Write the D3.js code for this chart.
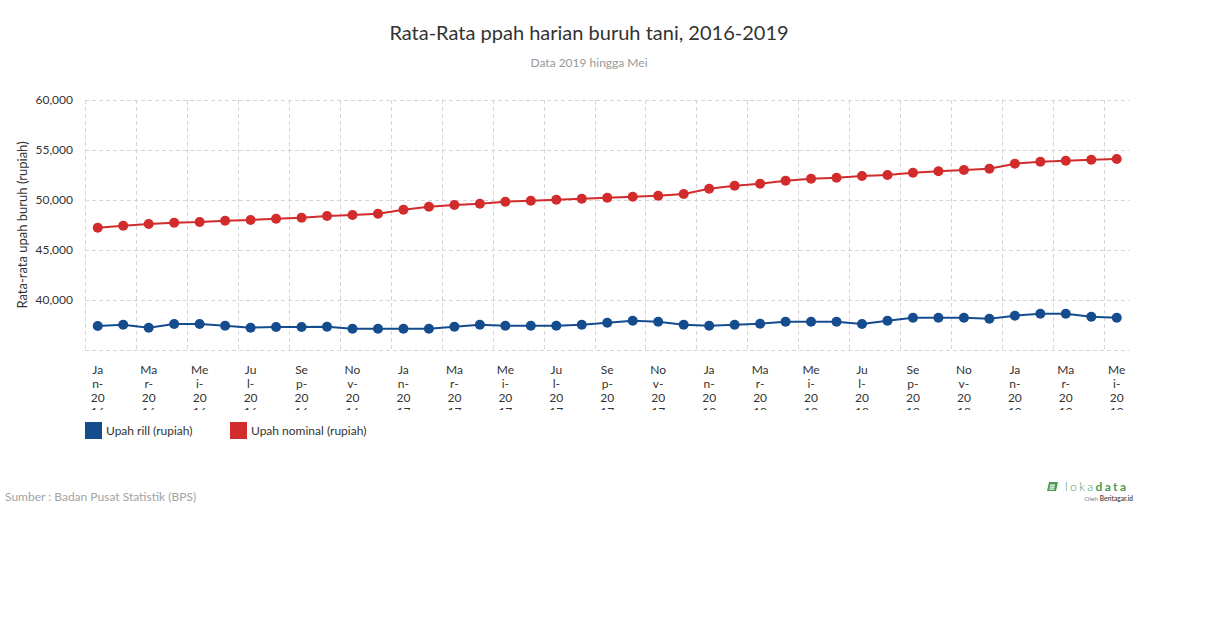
<!DOCTYPE html>
<html>
<head>
<meta charset="utf-8">
<script src="https://cdn.jsdelivr.net/npm/d3@7"></script>
<style>
  html, body { margin: 0; padding: 0; background: #fff; }
  svg { display: block; font-family: Lato, "Open Sans", sans-serif; }
</style>
</head>
<body>
<svg id="chart" width="1210" height="628"></svg>
<script>
// ---- data ----
const months = ["Jan","Feb","Mar","Apr","Mei","Jun","Jul","Agu","Sep","Okt","Nov","Des"];
const years = [2016, 2017, 2018, 2019];
const categories = [];
years.forEach(y => months.forEach((m, i) => { if (y < 2019 || i < 5) categories.push(m + "-" + y); }));

const upahRill = [
  37400, 37530, 37230, 37600, 37600, 37430, 37230, 37300, 37300, 37330, 37130, 37130,
  37130, 37130, 37330, 37530, 37430, 37430, 37430, 37530, 37730, 37930, 37830, 37530,
  37430, 37530, 37630, 37830, 37830, 37830, 37600, 37930, 38230, 38230, 38230, 38130,
  38430, 38630, 38630, 38330, 38230
];
const upahNominal = [
  47230, 47430, 47600, 47730, 47800, 47930, 48000, 48130, 48230, 48400, 48500, 48630,
  49030, 49330, 49500, 49630, 49830, 49930, 50030, 50130, 50230, 50330, 50430, 50600,
  51130, 51430, 51630, 51930, 52130, 52230, 52400, 52500, 52730, 52870, 53000, 53130,
  53630, 53830, 53930, 54030, 54100
];
const seriesNames = ["Upah rill (rupiah)", "Upah nominal (rupiah)"];
const yTicks = [35000, 40000, 45000, 50000, 55000, 60000];
const yLabelTicks = [40000, 45000, 50000, 55000, 60000];

const titleText = "Rata-Rata ppah harian buruh tani, 2016-2019";
const subtitleText = "Data 2019 hingga Mei";
const yTitle = "Rata-rata upah buruh (rupiah)";
const sourceText = "Sumber : Badan Pusat Statistik (BPS)";

// ---- layout ----
const colors = ["#144c8e", "#d22b2b"];
const plot = { left: 85, right: 1129.5, top: 100, bottom: 350 };
const svg = d3.select("#chart");

const x = d3.scaleBand().domain(categories).range([plot.left, plot.right]).paddingInner(0).paddingOuter(0);
const y = d3.scaleLinear().domain([35000, 60000]).range([plot.bottom, plot.top]);
const cx = c => x(c) + x.bandwidth() / 2;

// title
svg.append("text").attr("x", 589).attr("y", 40).attr("text-anchor", "middle")
  .attr("font-size", 20).attr("fill", "#333").text(titleText);
svg.append("text").attr("x", 589).attr("y", 67).attr("text-anchor", "middle")
  .attr("font-size", 12).attr("fill", "#999").text(subtitleText);

// grid
const grid = svg.append("g");
grid.selectAll("line.h").data(yTicks).join("line")
  .attr("x1", plot.left).attr("x2", plot.right)
  .attr("y1", d => Math.round(y(d)) + 0.5).attr("y2", d => Math.round(y(d)) + 0.5)
  .attr("stroke", "#d6d6d6").attr("stroke-dasharray", "4,3");
const vCats = categories.filter((c, i) => i % 2 === 0);
grid.selectAll("line.v").data(vCats).join("line")
  .attr("x1", d => Math.round(x(d)) + 0.5).attr("x2", d => Math.round(x(d)) + 0.5)
  .attr("y1", plot.top).attr("y2", plot.bottom)
  .attr("stroke", "#d6d6d6").attr("stroke-dasharray", "4,3");

// y axis labels
const yAxis = d3.axisLeft(y).tickValues(yLabelTicks).tickFormat(d3.format(",")).tickSize(0).tickPadding(12);
const yg = svg.append("g").attr("transform", `translate(${plot.left},0)`).call(yAxis);
yg.select(".domain").remove();
yg.selectAll("text").attr("font-size", 12).attr("fill", "#333").attr("font-family", "Lato, sans-serif");

// y title
svg.append("text").attr("transform", `translate(27,225) rotate(-90)`).attr("text-anchor", "middle")
  .attr("font-size", 13).attr("fill", "#333").text(yTitle);

// x labels (wrapped every 2 chars, clipped)
svg.append("clipPath").attr("id", "xclip").append("rect")
  .attr("x", 0).attr("y", 355).attr("width", 1210).attr("height", 55);
const xl = svg.append("g").attr("clip-path", "url(#xclip)");
const labelCats = categories.filter((c, i) => i % 2 === 0);
labelCats.forEach(c => {
  const chunks = c.match(/.{1,2}/g);
  const t = xl.append("text").attr("text-anchor", "middle").attr("font-size", 12).attr("fill", "#333");
  chunks.forEach((ch, k) => {
    t.append("tspan").attr("x", cx(c)).attr("y", 374 + k * 14).text(ch);
  });
});

// series
const allSeries = [upahRill, upahNominal];
const line = d3.line().x((d, i) => cx(categories[i])).y(d => y(d));
allSeries.forEach((vals, s) => {
  svg.append("path").datum(vals).attr("d", line).attr("fill", "none")
    .attr("stroke", colors[s]).attr("stroke-width", 2);
  svg.append("g").selectAll("circle").data(vals).join("circle")
    .attr("cx", (d, i) => cx(categories[i])).attr("cy", d => y(d)).attr("r", 5)
    .attr("fill", colors[s]);
});

// legend
const legendX = [85, 230];
seriesNames.forEach((n, s) => {
  svg.append("rect").attr("x", legendX[s]).attr("y", 422).attr("width", 17).attr("height", 17).attr("fill", colors[s]);
  svg.append("text").attr("x", legendX[s] + 21).attr("y", 435).attr("font-size", 12).attr("fill", "#333").text(n);
});

// source
svg.append("text").attr("x", 5).attr("y", 501).attr("font-size", 12).attr("fill", "#a3a3a3").text(sourceText);

// logo
const logo = svg.append("g").attr("transform", "translate(1047,482)");
logo.append("path").attr("d", "M2,0 H11 L9,9 H0 Z").attr("fill", "#4a9a55");
logo.append("rect").attr("x", 3).attr("y", 2.5).attr("width", 5).attr("height", 1.2).attr("fill", "#fff");
logo.append("rect").attr("x", 2.6).attr("y", 4.5).attr("width", 5).attr("height", 1.2).attr("fill", "#fff");
logo.append("rect").attr("x", 2.2).attr("y", 6.5).attr("width", 5).attr("height", 1.2).attr("fill", "#fff");
const lt = logo.append("text").attr("x", 18).attr("y", 9).attr("font-size", 12).attr("letter-spacing", 2.4).attr("fill", "#4a9a55");
lt.append("tspan").attr("font-weight", 300).text("loka");
lt.append("tspan").attr("font-weight", 700).text("data");
const ot = logo.append("text").attr("x", 86).attr("y", 19).attr("text-anchor", "end").attr("font-size", 6.5).attr("fill", "#888");
ot.append("tspan").text("Oleh ");
ot.append("tspan").attr("fill", "#555").attr("font-weight", 700).text("Beritagar.id");
</script>
</body>
</html>
